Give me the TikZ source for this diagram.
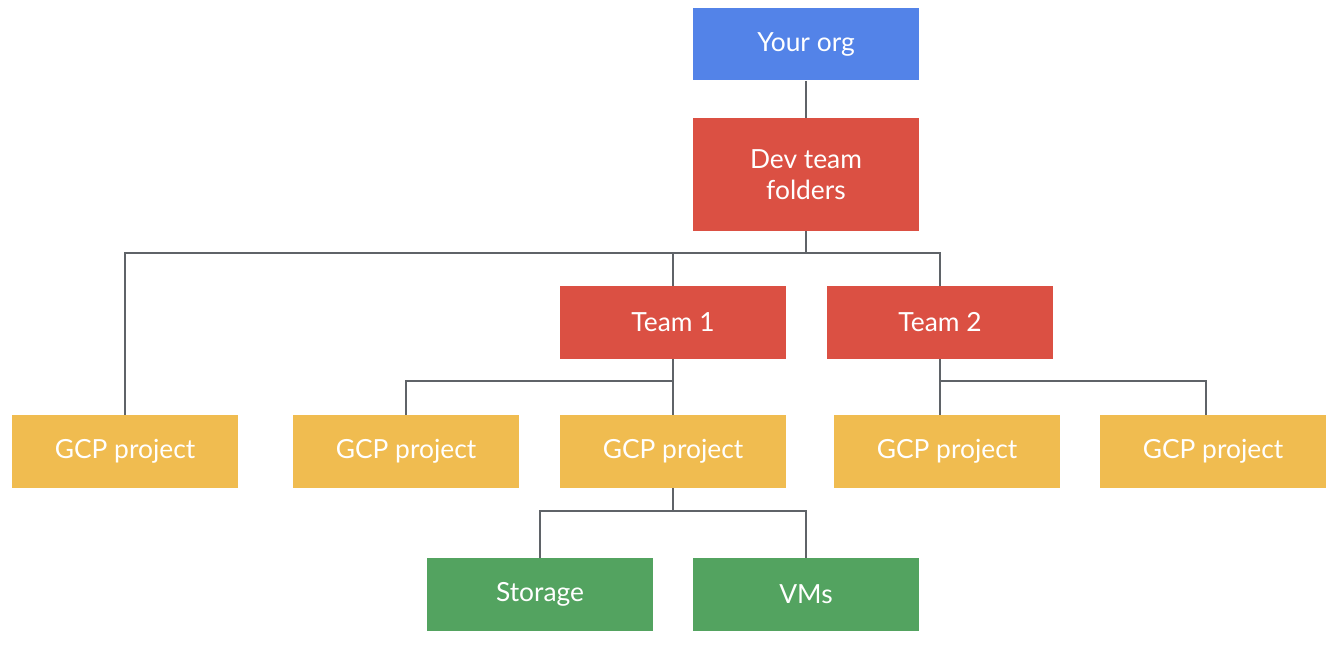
\documentclass[tikz,border=0pt]{standalone}
\usepackage{fontspec}
\setmainfont{Lato}
\usepackage{tikz}
\usetikzlibrary{positioning, calc}
\definecolor{orgblue}{HTML}{5383E8}
\definecolor{folderred}{HTML}{DB5043}
\definecolor{projyellow}{HTML}{F0BC50}
\definecolor{resgreen}{HTML}{53A360}
\definecolor{linkgrey}{HTML}{5F6368}
\tikzset{>=stealth}

\begin{document}
\begin{tikzpicture}[x=0.02cm, y=-0.02cm,
    box/.style={rectangle, minimum width=4.52cm, minimum height=1.46cm, inner sep=0pt,
      text=white, align=center, font=\fontsize{15}{17.5}\selectfont},
    orgbox/.style={box, fill=orgblue},
    folderbox/.style={box, fill=folderred},
    projbox/.style={box, fill=projyellow},
    resbox/.style={box, fill=resgreen},
    link/.style={draw=linkgrey, line width=1.1pt}]
  \useasboundingbox (0,0) rectangle (1344,645);
  % hierarchy boxes
  \node[orgbox] (org) at (806,44) {Your org};
  \node[folderbox, minimum height=2.26cm] (dev) at (806,174.5) {Dev team\\folders};
  \node[folderbox] (team1) at (673,322.5) {Team 1};
  \node[folderbox] (team2) at (940,322.5) {Team 2};
  \node[projbox] (gcpa) at (125,451.5) {GCP project};
  \node[projbox] (gcpb) at (406,451.5) {GCP project};
  \node[projbox] (gcpc) at (673,451.5) {GCP project};
  \node[projbox] (gcpd) at (947,451.5) {GCP project};
  \node[projbox] (gcpe) at (1213,451.5) {GCP project};
  \node[resbox] (storage) at (540,594.5) {Storage};
  \node[resbox] (vms) at (806,594.5) {VMs};
  % bus lines
  \coordinate (devbus) at (806,253);
  \coordinate (teamabus) at (673,381);
  \coordinate (teambbus) at (940,381);
  \coordinate (gcpbus) at (673,511);
  \coordinate (gcpetop) at (1206,415);
  \draw[link] (org) -- (dev);
  \draw[link] (dev) -- (devbus);
  \draw[link] (devbus) -| (gcpa);
  \draw[link] (devbus) -| (team1);
  \draw[link] (devbus) -| (team2);
  \draw[link] (team1) -- (teamabus);
  \draw[link] (teamabus) -| (gcpb);
  \draw[link] (teamabus) -- (gcpc);
  \draw[link] (team2) -- (gcpd.north -| team2);
  \draw[link] (teambbus) -| (gcpetop);
  \draw[link] (gcpc) -- (gcpbus);
  \draw[link] (gcpbus) -| (storage);
  \draw[link] (gcpbus) -| (vms);
\end{tikzpicture}
\end{document}
